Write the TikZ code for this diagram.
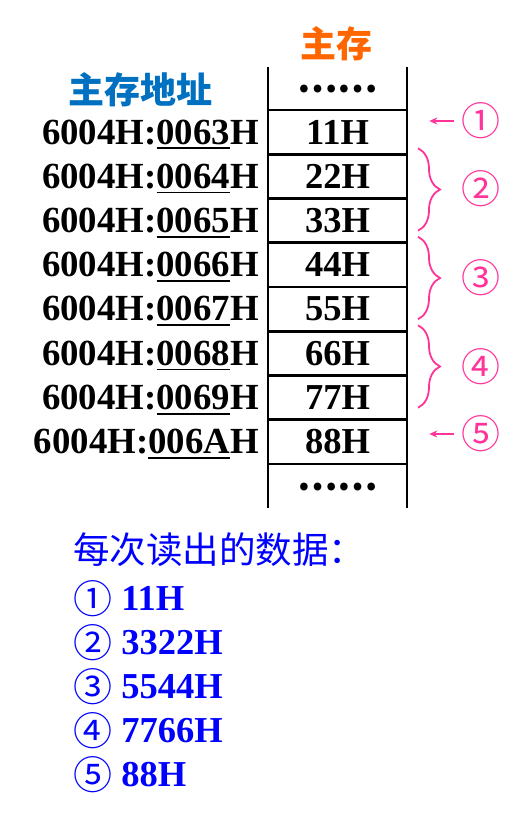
\documentclass[tikz,border=0pt]{standalone}
\usepackage{fontspec}
\setmainfont{Liberation Serif}
\newfontfamily\cjkfont{Noto Sans CJK SC}
\usetikzlibrary{decorations.pathreplacing,arrows.meta}

\definecolor{headorange}{HTML}{FF6600}
\definecolor{headblue}{HTML}{0070C0}
\definecolor{markpink}{HTML}{FF3399}
\definecolor{readblue}{HTML}{0000FF}

%% underline of the offset part
\newcommand{\offul}[1]{\setbox0\hbox{#1}\rlap{\rule[-5pt]{\wd0}{1.8pt}}\box0}
%% circled number
\newcommand{\circnum}[1]{{\fontsize{39}{43}\selectfont\cjkfont #1}}

\tikzset{
  cell/.style={draw, line width=2.6pt, minimum width=139pt, minimum height=44.25pt,
    inner sep=0pt, outer sep=0pt, font=\fontsize{36.5}{43}\selectfont\bfseries},
  dotcell/.style={inner sep=0pt, font=\fontsize{36}{43}\selectfont\cjkfont\bfseries},
  wall/.style={line width=2.6pt},
  addr/.style={anchor=base east, inner sep=0pt, font=\fontsize{36.8}{43}\selectfont\bfseries},
  head/.style={inner sep=0pt, font=\fontsize{36}{43}\selectfont\cjkfont\bfseries},
  readmark/.style={inner sep=0pt, text=markpink},
  grp/.style={draw=markpink, line width=1.8pt, decorate, decoration={brace, amplitude=22pt}},
  ptr/.style={draw=markpink, line width=1.6pt, -{Stealth[length=8pt, width=7pt]}},
  readline/.style={anchor=base west, inner sep=0pt, text=readblue, font=\fontsize{36.5}{43}\selectfont}
}

\begin{document}
\begin{tikzpicture}[x=1pt, y=-1pt]
\useasboundingbox (0,0) rectangle (521,825);

%% headings
\node[head, text=headorange] (memhead) at (336,44) {主存};
\node[head, text=headblue] (addrhead) at (140,90) {主存地址};

%% memory cells
\node[cell] (c1) at (337.5,132.1) {11H};
\node[cell] (c2) at (337.5,176.4) {22H};
\node[cell] (c3) at (337.5,220.6) {33H};
\node[cell] (c4) at (337.5,264.9) {44H};
\node[cell] (c5) at (337.5,309.1) {55H};
\node[cell] (c6) at (337.5,353.4) {66H};
\node[cell] (c7) at (337.5,397.6) {77H};
\node[cell] (c8) at (337.5,441.9) {88H};
\node[dotcell] (d0) at (337.5,89) {……};   %% above
\node[dotcell] (d9) at (337.5,487) {……};  %% below

%% side walls
\draw[wall] ([yshift=43pt]c1.north west) -- ([yshift=-44pt]c8.south west);
\draw[wall] ([yshift=43pt]c1.north east) -- ([yshift=-44pt]c8.south east);

%% addresses
\node[addr] (a1) at ([xshift=-9pt]c1.base west) {6004H:\offul{0063}H};
\node[addr] (a2) at ([xshift=-9pt]c2.base west) {6004H:\offul{0064}H};
\node[addr] (a3) at ([xshift=-9pt]c3.base west) {6004H:\offul{0065}H};
\node[addr] (a4) at ([xshift=-9pt]c4.base west) {6004H:\offul{0066}H};
\node[addr] (a5) at ([xshift=-9pt]c5.base west) {6004H:\offul{0067}H};
\node[addr] (a6) at ([xshift=-9pt]c6.base west) {6004H:\offul{0068}H};
\node[addr] (a7) at ([xshift=-9pt]c7.base west) {6004H:\offul{0069}H};
\node[addr] (a8) at ([xshift=-9pt]c8.base west) {6004H:\offul{006A}H};

%% read marks
\node[readmark] (n1) at (481,121) {\circnum{①}};
\node[readmark] (n2) at (481,189) {\circnum{②}};
\node[readmark] (n3) at (481,278) {\circnum{③}};
\node[readmark] (n4) at (481,367) {\circnum{④}};
\node[readmark] (n5) at (481,434) {\circnum{⑤}};

\draw[ptr] ([xshift=-7pt]n1.west) -- ++(-25,0);   %% 1
\draw[grp] ([xshift=11pt,yshift=6pt]c2.north east) -- ([xshift=11pt,yshift=12pt]c3.south east);   %% 2
\draw[grp] ([xshift=11pt,yshift=6pt]c4.north east) -- ([xshift=11pt,yshift=12pt]c5.south east);   %% 3
\draw[grp] ([xshift=11pt,yshift=6pt]c6.north east) -- ([xshift=11pt,yshift=12pt]c7.south east);   %% 4
\draw[ptr] ([xshift=-7pt]n5.west) -- ++(-25,0);   %% 5

%% data read each time
\node[readline] (rt) at (73,563) {\cjkfont 每次读出的数据：};
\node[readline] (r1) at (73,610) {\raisebox{-3pt}{\circnum{①}} \textbf{11H}};
\node[readline] (r2) at (73,654) {\raisebox{-3pt}{\circnum{②}} \textbf{3322H}};
\node[readline] (r3) at (73,698) {\raisebox{-3pt}{\circnum{③}} \textbf{5544H}};
\node[readline] (r4) at (73,742) {\raisebox{-3pt}{\circnum{④}} \textbf{7766H}};
\node[readline] (r5) at (73,786) {\raisebox{-3pt}{\circnum{⑤}} \textbf{88H}};
\end{tikzpicture}
\end{document}
